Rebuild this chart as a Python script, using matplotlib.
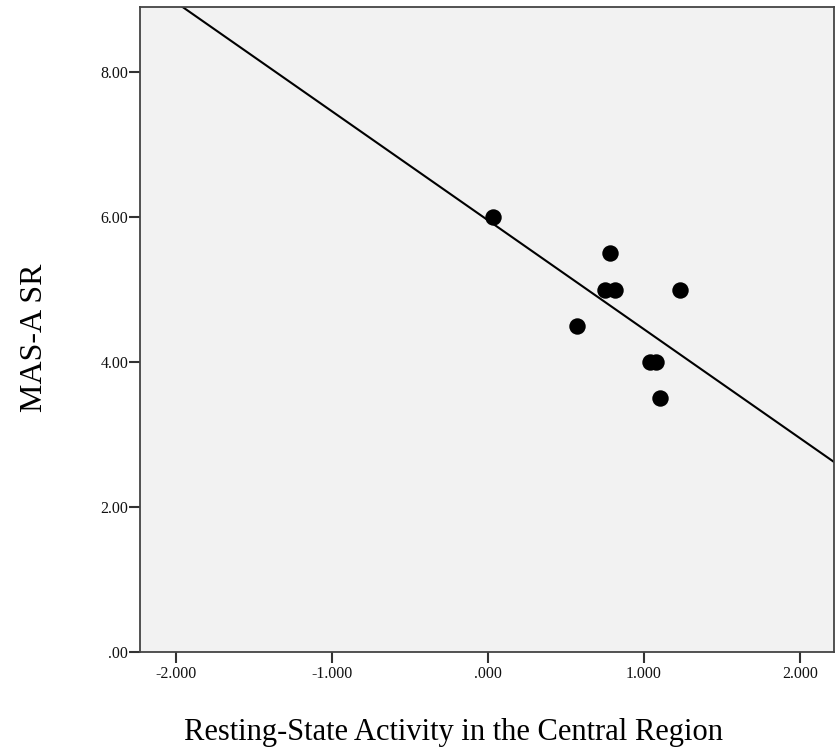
import numpy as np
import matplotlib
matplotlib.use('Agg')
import matplotlib.pyplot as plt
from matplotlib.ticker import FuncFormatter

# resting-state activity (x) vs MAS-A SR (y)
activity = [0.034, 0.785, 0.750, 0.815, 1.230, 0.574, 1.038, 1.077, 1.102]
mas_sr = [6.0, 5.5, 5.0, 5.0, 5.0, 4.5, 4.0, 4.0, 3.5]

x_ticks = [-2, -1, 0, 1, 2]
y_ticks = [0, 2, 4, 6, 8]

plt.rcParams['font.family'] = ['Liberation Serif', 'DejaVu Serif']

fig = plt.figure(figsize=(8.35, 7.47), dpi=100)
ax = fig.add_axes([140/835, 1-652/747, 694/835, 645/747])
ax.set_facecolor('#f2f2f2')

# fit line across the whole x range
slope, icept = np.polyfit(activity, mas_sr, 1)
xl = np.array([-2.23, 2.23])
ax.plot(xl, slope*xl + icept, color='black', lw=1.5, zorder=2)

ax.scatter(activity, mas_sr, s=140, color='black', zorder=3, linewidths=0)

ax.set_xlim(-2.23, 2.22)
ax.set_ylim(0, 8.9)
ax.set_xticks(x_ticks)
ax.set_yticks(y_ticks)

def fmt(v, n):
    s = '%.*f' % (n, v)
    if s.startswith('0'):
        s = s[1:]
    return s

ax.xaxis.set_major_formatter(FuncFormatter(lambda v, p: fmt(v, 3)))
ax.yaxis.set_major_formatter(FuncFormatter(lambda v, p: fmt(v, 2)))
ax.tick_params(axis='both', direction='out', length=8, width=1.5, color='#333333',
               labelsize=11.5, labelcolor='#111111', pad=0.5)
ax.tick_params(axis='x', pad=2)

for sp in ax.spines.values():
    sp.set_color('#444444')
    sp.set_linewidth(1.3)

fig.text(453/835, 7/747, 'Resting-State Activity in the Central Region',
         ha='center', va='baseline', fontsize=22)
fig.text(35/835, 1-338/747, 'MAS-A SR', rotation=90,
         ha='center', va='center', fontsize=23)

fig.savefig('out.png', dpi=100)
